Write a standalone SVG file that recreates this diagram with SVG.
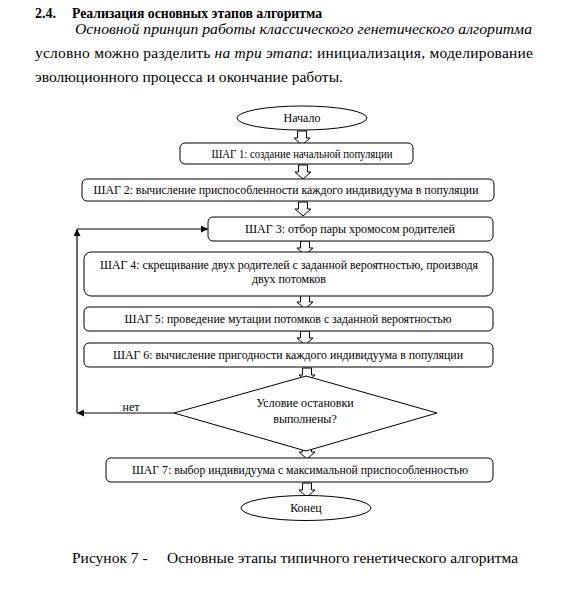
<svg xmlns="http://www.w3.org/2000/svg" width="570" height="592" viewBox="0 0 570 592">
<defs>
<style>
text{font-family:'Liberation Serif','Times New Roman','DejaVu Serif',serif;fill:#000}
.b{font-size:12px;text-anchor:middle}
.p{font-size:15.5px}
.box{fill:#fff;stroke:#000;stroke-width:1}
.bar{fill:#fff;stroke:#000;stroke-width:1}
.ln{fill:none;stroke:#000;stroke-width:1.2}
</style>
<marker id="ah" viewBox="0 0 10 10" refX="10" refY="5" markerWidth="7" markerHeight="7" markerUnits="userSpaceOnUse" orient="auto">
<path d="M0,0 L10,5 L0,10 z" fill="#000"/>
</marker>
<path id="barr" d="M-4.5,0 H4.5 V7 H8 L0,14 L-8,7 H-4.5 Z"/>
</defs>
<rect width="570" height="592" fill="#fff"/>

<g id="header">
<text x="35" y="18" font-size="14" font-weight="bold">2.4.</text>
<text x="72" y="18" font-size="14" font-weight="bold" textLength="250" lengthAdjust="spacingAndGlyphs">Реализация основных этапов алгоритма</text>
<text class="p" x="75" y="34" font-style="italic" textLength="457" lengthAdjust="spacingAndGlyphs">Основной принцип работы классического генетического алгоритма</text>
<text class="p" x="35" y="58" textLength="498" lengthAdjust="spacing">условно можно разделить <tspan font-style="italic">на три этапа</tspan>: инициализация, моделирование</text>
<text class="p" x="35" y="82" textLength="308" lengthAdjust="spacingAndGlyphs">эволюционного процесса и окончание работы.</text>
</g>

<g id="connectors">
<use href="#barr" class="bar" x="302" y="131"/>
<use href="#barr" class="bar" x="303" y="165"/>
<use href="#barr" class="bar" x="303" y="202"/>
<use href="#barr" class="bar" x="305" y="241"/>
<use href="#barr" class="bar" x="305" y="295"/>
<use href="#barr" class="bar" x="305" y="331"/>
<use href="#barr" class="bar" x="307" y="368"/>
<use href="#barr" class="bar" x="307" y="445"/>
<use href="#barr" class="bar" x="307" y="483"/>
<line class="ln" x1="174" y1="413" x2="77" y2="413" marker-end="url(#ah)"/>
<line class="ln" x1="77" y1="413" x2="77" y2="229" marker-end="url(#ah)"/>
<line class="ln" x1="77" y1="229" x2="208" y2="229" marker-end="url(#ah)"/>
<text x="131" y="411" font-size="12" text-anchor="middle">нет</text>
</g>

<g id="start">
<ellipse class="box" cx="302" cy="118" rx="65" ry="12"/>
<text class="b" x="302" y="122">Начало</text>
</g>

<g id="step1">
<rect class="box" x="180" y="143" width="233" height="21" rx="5"/>
<text class="b" x="302" y="158" textLength="181" lengthAdjust="spacingAndGlyphs">ШАГ 1: создание начальной популяции</text>
</g>

<g id="step2">
<rect class="box" x="82" y="179" width="412" height="22" rx="5"/>
<text class="b" x="286" y="194" textLength="385" lengthAdjust="spacingAndGlyphs">ШАГ 2: вычисление приспособленности каждого индивидуума в популяции</text>
</g>

<g id="step3">
<rect class="box" x="208" y="217" width="285" height="24" rx="5"/>
<text class="b" x="350" y="233" textLength="210" lengthAdjust="spacingAndGlyphs">ШАГ 3: отбор пары хромосом родителей</text>
</g>

<g id="step4">
<rect class="box" x="84" y="252" width="409" height="44" rx="7" stroke="#333" stroke-width="1.3"/>
<text class="b" x="289" y="269" textLength="378" lengthAdjust="spacingAndGlyphs">ШАГ 4: скрещивание двух родителей с заданной вероятностью, производя</text>
<text class="b" x="289" y="283">двух потомков</text>
</g>

<g id="step5">
<rect class="box" x="84" y="307" width="409" height="24" rx="5"/>
<text class="b" x="288" y="323" textLength="327" lengthAdjust="spacingAndGlyphs">ШАГ 5: проведение мутации потомков с заданной вероятностью</text>
</g>

<g id="step6">
<rect class="box" x="84" y="343" width="409" height="24" rx="5"/>
<text class="b" x="288" y="359" textLength="350" lengthAdjust="spacingAndGlyphs">ШАГ 6: вычисление пригодности каждого индивидуума в популяции</text>
</g>

<g id="decision">
<polygon class="box" points="306,376 437,413 306,451 174,413"/>
<text class="b" x="305" y="407">Условие остановки</text>
<text class="b" x="305" y="423">выполнены?</text>
</g>

<g id="step7">
<rect class="box" x="106" y="458" width="387" height="24" rx="5"/>
<text class="b" x="300" y="474" textLength="336" lengthAdjust="spacingAndGlyphs">ШАГ 7: выбор индивидуума с максимальной приспособленностью</text>
</g>

<g id="end">
<ellipse class="box" cx="306" cy="508" rx="65" ry="12.5"/>
<text class="b" x="306" y="512">Конец</text>
</g>

<g id="caption">
<text class="p" x="72" y="563">Рисунок 7 -</text>
<text class="p" x="167" y="563" textLength="351" lengthAdjust="spacingAndGlyphs">Основные этапы типичного генетического алгоритма</text>
</g>
</svg>
